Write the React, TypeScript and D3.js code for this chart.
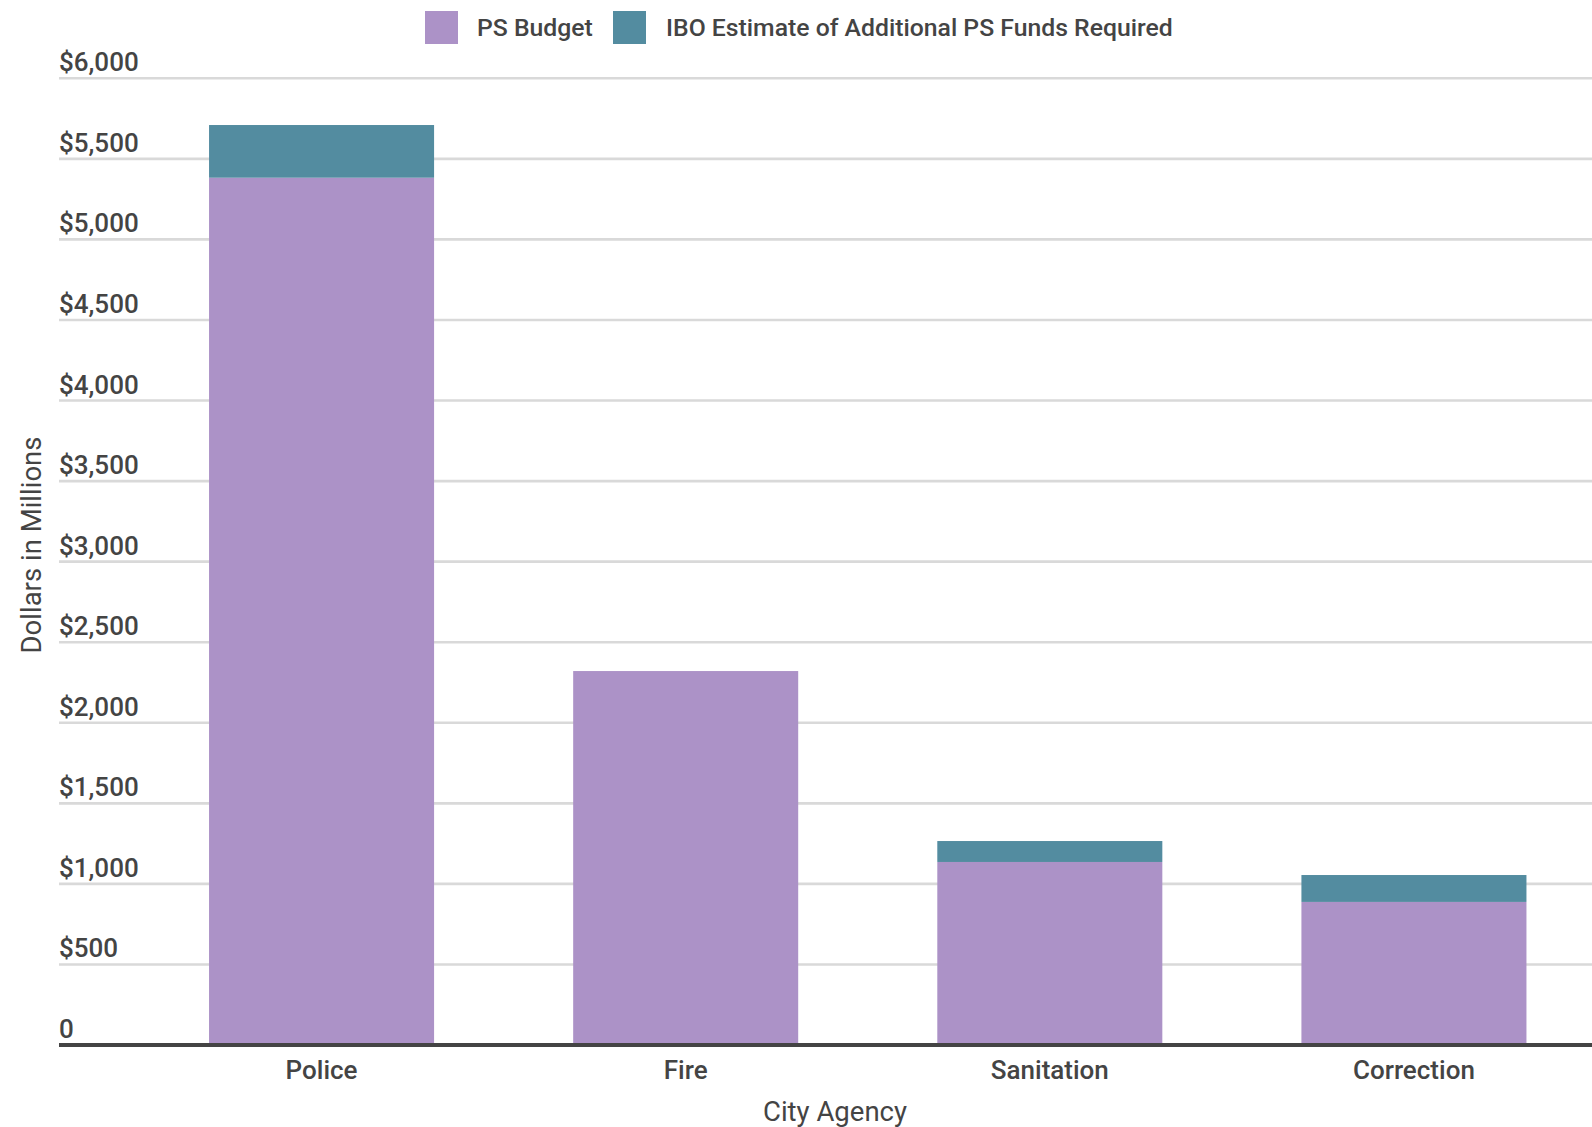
import React from "react";
import * as d3 from "d3";

const agencies = ["Police", "Fire", "Sanitation", "Correction"];
const psBudget = [5383, 2321, 1136, 888];
const additionalFunds = [327, 0, 130, 167];
const yTicks = [0, 500, 1000, 1500, 2000, 2500, 3000, 3500, 4000, 4500, 5000, 5500, 6000];
const seriesNames = ["PS Budget", "IBO Estimate of Additional PS Funds Required"];
const seriesColors = ["#ac92c7", "#538ca0"];

const W = 1592;
const H = 1127;
const FONT = "Roboto, 'Noto Sans', sans-serif";
const TEXT = "#444444";

export default function App() {
  const y = d3.scaleLinear().domain([0, 6000]).range([1045, 78.3]);
  const x = d3
    .scaleBand<string>()
    .domain(agencies)
    .range([139.5, 1596])
    .paddingInner(0.382)
    .paddingOuter(0.191);

  const rows = agencies.map((a, i) => ({ agency: a, budget: psBudget[i], extra: additionalFunds[i] }));
  const stacked = d3.stack<any>().keys(["budget", "extra"])(rows);

  const fmt = (v: number) => (v === 0 ? "0" : "$" + d3.format(",")(v));

  return (
    <svg
      width={W}
      height={H}
      style={{ position: "absolute", left: 0, top: 0, background: "#fff" }}
      fontFamily={FONT}
    >
      {/* gridlines */}
      {yTicks.slice(1).map((t) => (
        <line key={t} x1={59} x2={W} y1={y(t)} y2={y(t)} stroke="#d9d9d9" strokeWidth={2.6} />
      ))}

      {/* y tick labels */}
      {yTicks.map((t) => (
        <text
          key={"l" + t}
          x={59}
          y={y(t) - 7}
          fontSize={26}
          fontWeight={500}
          fill={TEXT}
        >
          {fmt(t)}
        </text>
      ))}

      {/* stacked bars */}
      {stacked.map((layer, si) =>
        layer.map((d: any, i: number) =>
          d[1] - d[0] > 0 ? (
            <rect
              key={si + "-" + i}
              x={x(agencies[i])}
              width={x.bandwidth()}
              y={y(d[1])}
              height={y(d[0]) - y(d[1])}
              fill={seriesColors[si]}
            />
          ) : null
        )
      )}

      {/* baseline */}
      <line x1={59} x2={W} y1={y(0)} y2={y(0)} stroke="#444444" strokeWidth={4} />

      {/* x labels */}
      {agencies.map((a) => (
        <text
          key={a}
          x={(x(a) as number) + x.bandwidth() / 2}
          y={1079}
          textAnchor="middle"
          fontSize={26}
          fontWeight={500}
          fill={TEXT}
        >
          {a}
        </text>
      ))}

      {/* axis titles */}
      <text x={835} y={1121} textAnchor="middle" fontSize={27.5} fill={TEXT}>
        City Agency
      </text>
      <text
        transform={`translate(41,545) rotate(-90)`}
        textAnchor="middle"
        fontSize={27.5}
        fill={TEXT}
      >
        Dollars in Millions
      </text>

      {/* legend */}
      <rect x={425} y={11} width={33} height={33} fill={seriesColors[0]} />
      <text x={477} y={36} fontSize={24.75} fontWeight={500} fill={TEXT}>
        {seriesNames[0]}
      </text>
      <rect x={613} y={11} width={33} height={33} fill={seriesColors[1]} />
      <text x={666} y={36} fontSize={24.75} fontWeight={500} fill={TEXT}>
        {seriesNames[1]}
      </text>
    </svg>
  );
}
